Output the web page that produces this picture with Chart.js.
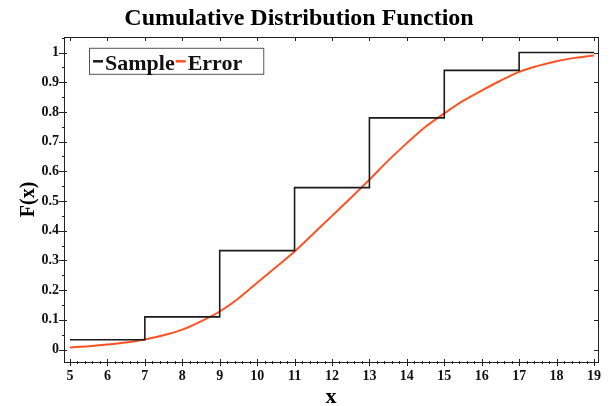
<!DOCTYPE html>
<html><head><meta charset="utf-8">
<script src="https://cdn.jsdelivr.net/npm/chart.js@4.4.0/dist/chart.umd.min.js"></script>
<style>html,body{margin:0;padding:0;background:#fff;}#wrap{width:611px;height:406px;}</style>
</head><body><div id="wrap"><canvas id="c" width="611" height="406"></canvas></div>
<script>
const titleText = 'Cumulative Distribution Function';
const xAxisTitle = 'x';
const yAxisTitle = 'F(x)';
const seriesNames = ['Sample', 'Error'];
const xTickLabels = [5, 6, 7, 8, 9, 10, 11, 12, 13, 14, 15, 16, 17, 18, 19];
const yTickLabels = [0, 0.1, 0.2, 0.3, 0.4, 0.5, 0.6, 0.7, 0.8, 0.9, 1];
const sampleX = [5, 7, 9, 11, 13, 15, 17, 19];
const sampleY = [0.033, 0.11, 0.333, 0.545, 0.78, 0.94, 1.0, 1.0];
const errorX = [5, 5.5, 6, 6.5, 7, 7.5, 8, 8.5, 9, 9.5, 10, 10.5, 11, 11.5, 12, 12.5, 13, 13.5, 14, 14.5, 15, 15.5, 16, 16.5, 17, 17.5, 18, 18.5, 19];
const errorY = [0.007, 0.011, 0.017, 0.024, 0.034, 0.048, 0.067, 0.095, 0.128, 0.172, 0.225, 0.277, 0.33, 0.39, 0.45, 0.51, 0.572, 0.636, 0.695, 0.75, 0.795, 0.837, 0.872, 0.905, 0.935, 0.955, 0.971, 0.982, 0.99];

const FONT = '"Liberation Serif", "Times New Roman", serif';
const sampleColor = '#1a1a1a';
const errorColor = '#ff5222';

const framePlugin = {
  id: 'frame',
  afterDatasetsDraw(chart) {
    const ctx = chart.ctx, ca = chart.chartArea;
    const xs = chart.scales.x, ys = chart.scales.y;
    ctx.save();
    ctx.strokeStyle = '#222';
    ctx.lineWidth = 1;
    ctx.strokeRect(Math.round(ca.left) + 0.5, Math.round(ca.top) + 0.5, Math.round(ca.right - ca.left), Math.round(ca.bottom - ca.top));
    ctx.beginPath();
    for (let v = Math.ceil(xs.min * 5) / 5; v <= xs.max + 1e-9; v += 0.2) {
      const px = Math.round(xs.getPixelForValue(v)) + 0.5;
      const major = Math.abs(v - Math.round(v)) < 1e-6;
      const b = Math.round(ca.bottom), t = Math.round(ca.top);
      if (major) {
        ctx.moveTo(px, b - 3); ctx.lineTo(px, b + 4);
        ctx.moveTo(px, t); ctx.lineTo(px, t + 4);
      } else {
        ctx.moveTo(px, b - 1); ctx.lineTo(px, b + 2);
      }
    }
    for (let v = Math.ceil(ys.min * 20) / 20; v <= ys.max + 1e-9; v += 0.05) {
      const py = Math.round(ys.getPixelForValue(v)) + 0.5;
      const major = Math.abs(v * 10 - Math.round(v * 10)) < 1e-6;
      const l = Math.round(ca.left), r = Math.round(ca.right);
      if (major) {
        ctx.moveTo(l - 5, py); ctx.lineTo(l + 3, py);
        ctx.moveTo(r, py); ctx.lineTo(r - 4, py);
      } else {
        ctx.moveTo(l - 2, py); ctx.lineTo(l + 1, py);
      }
    }
    ctx.stroke();
    ctx.restore();
  }
};

const legendPlugin = {
  id: 'insideLegend',
  afterDraw(chart) {
    const ctx = chart.ctx, ca = chart.chartArea;
    ctx.save();
    ctx.font = 'bold 22px ' + FONT;
    const left = ca.left + 25, top = ca.top + 11, h = 26;
    let w = 4;
    chart.data.datasets.forEach(ds => { w += 12 + ctx.measureText(ds.label).width + 1; });
    w += 20;
    ctx.fillStyle = '#fff';
    ctx.fillRect(left, top, w, h);
    ctx.strokeStyle = '#555';
    ctx.lineWidth = 1;
    ctx.strokeRect(left + 0.5, top + 0.5, w, h);
    let x = left + 4;
    const midY = top + 13.5, baseY = top + 22;
    chart.data.datasets.forEach(ds => {
      ctx.strokeStyle = ds.borderColor;
      ctx.lineWidth = 2.5;
      ctx.beginPath(); ctx.moveTo(x, midY); ctx.lineTo(x + 10, midY); ctx.stroke();
      x += 12;
      ctx.fillStyle = '#111';
      ctx.textBaseline = 'alphabetic';
      ctx.textAlign = 'left';
      ctx.fillText(ds.label, x, baseY);
      x += ctx.measureText(ds.label).width + 1;
    });
    ctx.restore();
  }
};

new Chart(document.getElementById('c'), {
  type: 'scatter',
  data: {
    datasets: [
      {
        label: seriesNames[0],
        data: sampleX.map((x, i) => ({ x: x, y: sampleY[i] })),
        showLine: true, stepped: 'before',
        borderColor: sampleColor, borderWidth: 1.6,
        pointRadius: 0, fill: false
      },
      {
        label: seriesNames[1],
        data: errorX.map((x, i) => ({ x: x, y: errorY[i] })),
        showLine: true, cubicInterpolationMode: 'monotone',
        borderColor: errorColor, borderWidth: 2,
        pointRadius: 0, fill: false
      }
    ]
  },
  options: {
    responsive: false,
    animation: false,
    layout: { padding: { left: 0, right: 13, top: 0, bottom: 0 } },
    plugins: {
      legend: { display: false },
      tooltip: { enabled: false },
      title: {
        display: true, text: titleText, color: '#000',
        font: { family: FONT, size: 24, weight: 'bold' },
        padding: { top: 4, bottom: 4 }
      }
    },
    scales: {
      x: {
        type: 'linear', min: 4.84, max: 19.107,
        grid: { display: false, drawTicks: false, tickLength: 0 }, border: { display: false },
        afterBuildTicks: s => { s.ticks = xTickLabels.map(v => ({ value: v })); },
        afterFit: s => { s.height = 44; },
        ticks: {
          padding: 6, color: '#111', maxRotation: 0, autoSkip: false,
          font: { family: FONT, size: 14, weight: 'bold' },
          callback: v => String(v)
        },
        title: {
          display: true, text: xAxisTitle, color: '#000',
          font: { family: FONT, size: 22, weight: 'bold' },
          padding: { top: 0, bottom: -5 }
        }
      },
      y: {
        type: 'linear', min: -0.042, max: 1.053,
        grid: { display: false, drawTicks: false, tickLength: 0 }, border: { display: false },
        afterBuildTicks: s => { s.ticks = yTickLabels.map(v => ({ value: v })); },
        afterFit: s => { s.width = 64; },
        ticks: {
          padding: 5, color: '#111', autoSkip: false,
          font: { family: FONT, size: 14, weight: 'bold' },
          callback: v => String(Number(v.toFixed(2)))
        },
        title: {
          display: true, text: yAxisTitle, color: '#000',
          font: { family: FONT, size: 20, weight: 'bold' },
          padding: { top: 17, bottom: 0 }
        }
      }
    }
  },
  plugins: [framePlugin, legendPlugin]
});
</script>
</body></html>
